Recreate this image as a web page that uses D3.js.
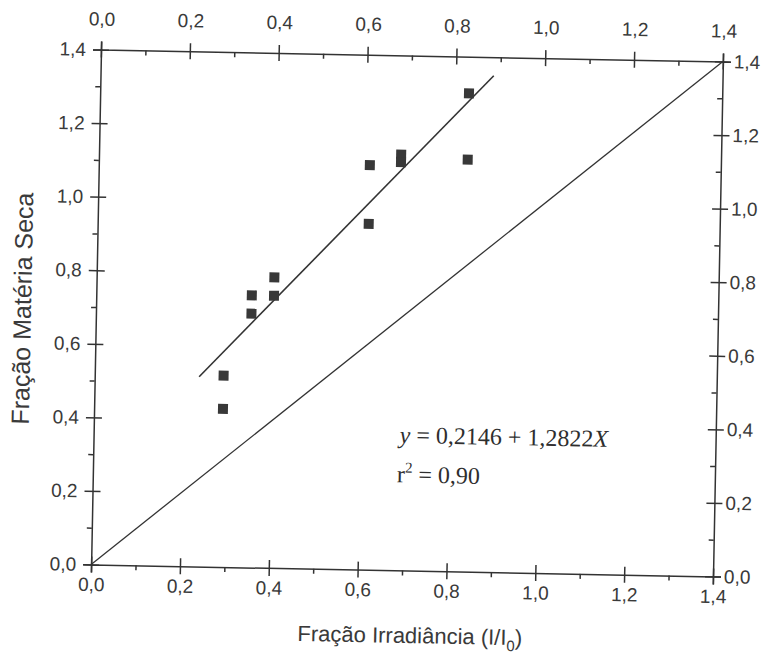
<!DOCTYPE html>
<html>
<head>
<meta charset="utf-8">
<script src="https://cdn.jsdelivr.net/npm/d3@7"></script>
<style>
  body { margin: 0; background: #fff; }
  svg { display: block; }
  .tick text { font-family: "Liberation Sans", Arial, sans-serif; font-size: 19px; fill: #3a3a3a; }
  .domain, .tick line { stroke: #333; stroke-width: 1.5; }
</style>
</head>
<body>
<script>
// measured values (fração irradiância vs fração matéria seca)
const irradiance = [0.29, 0.29, 0.35, 0.35, 0.40, 0.40, 0.61, 0.61, 0.68, 0.68, 0.83, 0.83];
const dryMatter  = [0.52, 0.43, 0.74, 0.69, 0.79, 0.74, 1.10, 0.94, 1.13, 1.11, 1.30, 1.12];

// fitted line y = a + bX, drawn over this x range
const fitCoef = [0.2146, 1.2822];
const fitRange = [0.235, 0.885];
const r2 = 0.90;

const majorTicks = [0, 0.2, 0.4, 0.6, 0.8, 1.0, 1.2, 1.4];
const minorTicks = [0.1, 0.3, 0.5, 0.7, 0.9, 1.1, 1.3];

const width = 773, height = 655;
const W = 622, H = 515;
const marginLeft = 96, marginTop = 55.5;
const ink = "#333";

const fmt = d => d3.format(".1f")(d).replace(".", ",");

const svg = d3.select("body").append("svg")
  .attr("width", width)
  .attr("height", height);

// scanned page is tilted a little
const page = svg.append("g").attr("transform", "rotate(1.1, 407, 313)");
const g = page.append("g").attr("transform", `translate(${marginLeft},${marginTop})`);

const x = d3.scaleLinear().domain([0, 1.4]).range([0, W]);
const y = d3.scaleLinear().domain([0, 1.4]).range([H, 0]);

// major ticks cross the axis line
function crossTicks(sel, horizontal) {
  sel.selectAll(".tick line")
    .attr(horizontal ? "y1" : "x1", -8)
    .attr(horizontal ? "y2" : "x2", 8);
}

// bottom
g.append("g")
  .attr("transform", `translate(0,${H})`)
  .call(d3.axisBottom(x).tickValues(majorTicks).tickFormat(fmt).tickSizeOuter(0).tickSize(8).tickPadding(5))
  .call(a => crossTicks(a, true));
g.append("g")
  .attr("transform", `translate(0,${H})`)
  .call(d3.axisBottom(x).tickValues(minorTicks).tickFormat("").tickSizeOuter(0).tickSize(5))
  .call(a => a.select(".domain").remove());

// top
g.append("g")
  .call(d3.axisTop(x).tickValues(majorTicks).tickFormat(fmt).tickSizeOuter(0).tickSize(8).tickPadding(16))
  .call(a => crossTicks(a, true));
g.append("g")
  .call(d3.axisTop(x).tickValues(minorTicks).tickFormat("").tickSizeOuter(0).tickSize(-5))
  .call(a => a.select(".domain").remove());

// left
g.append("g")
  .call(d3.axisLeft(y).tickValues(majorTicks).tickFormat(fmt).tickSizeOuter(0).tickSize(8).tickPadding(7))
  .call(a => crossTicks(a, false));
g.append("g")
  .call(d3.axisLeft(y).tickValues(minorTicks).tickFormat("").tickSizeOuter(0).tickSize(5))
  .call(a => a.select(".domain").remove());

// right
g.append("g")
  .attr("transform", `translate(${W},0)`)
  .call(d3.axisRight(y).tickValues(majorTicks).tickFormat(fmt).tickSizeOuter(0).tickSize(8).tickPadding(3))
  .call(a => crossTicks(a, false));
g.append("g")
  .attr("transform", `translate(${W},0)`)
  .call(d3.axisRight(y).tickValues(minorTicks).tickFormat("").tickSizeOuter(0).tickSize(-5))
  .call(a => a.select(".domain").remove());

// 1:1 line
g.append("line")
  .attr("x1", x(0)).attr("y1", y(0))
  .attr("x2", x(1.4)).attr("y2", y(1.4))
  .attr("stroke", ink).attr("stroke-width", 1.3);

// regression line
const fit = d3.line().x(d => x(d)).y(d => y(fitCoef[0] + fitCoef[1] * d));
g.append("path")
  .attr("d", fit(fitRange))
  .attr("fill", "none")
  .attr("stroke", ink).attr("stroke-width", 1.6);

// points
const sq = 10;
g.selectAll("rect.pt")
  .data(irradiance)
  .enter()
  .append("rect")
    .attr("class", "pt")
    .attr("x", d => x(d) - sq / 2)
    .attr("y", (d, i) => y(dryMatter[i]) - sq / 2)
    .attr("width", sq)
    .attr("height", sq)
    .attr("fill", "#383838");

// equation
const eq = g.append("text")
  .attr("x", 306).attr("y", 387.5)
  .attr("font-family", "'Liberation Serif', 'Times New Roman', serif")
  .attr("font-size", 24)
  .attr("fill", "#2e2e2e");
eq.append("tspan").attr("font-style", "italic").text("y");
eq.append("tspan").text(` = ${String(fitCoef[0]).replace(".", ",")} + ${String(fitCoef[1]).replace(".", ",")}`);
eq.append("tspan").attr("font-style", "italic").text("X");

const rt = g.append("text")
  .attr("x", 304).attr("y", 427)
  .attr("font-family", "'Liberation Serif', 'Times New Roman', serif")
  .attr("font-size", 24)
  .attr("fill", "#2e2e2e");
rt.append("tspan").text("r");
rt.append("tspan").attr("font-size", 15).attr("dy", -10).text("2");
rt.append("tspan").attr("dy", 10).text(` = ${d3.format(".2f")(r2).replace(".", ",")}`);

// axis titles
const title = page.append("text")
  .attr("x", 416).attr("y", 643)
  .attr("text-anchor", "middle")
  .attr("font-family", "'Liberation Sans', Arial, sans-serif")
  .attr("font-size", 22)
  .attr("fill", "#3a3a3a");
title.append("tspan").text("Fração Irradiância (I/I");
title.append("tspan").attr("font-size", 15).attr("dy", 6).text("0");
title.append("tspan").attr("dy", -6).text(")");

page.append("text")
  .attr("transform", "translate(31,316) rotate(-90)")
  .attr("text-anchor", "middle")
  .attr("font-family", "'Liberation Sans', Arial, sans-serif")
  .attr("font-size", 25)
  .attr("fill", "#3a3a3a")
  .text("Fração Matéria Seca");
</script>
</body>
</html>
